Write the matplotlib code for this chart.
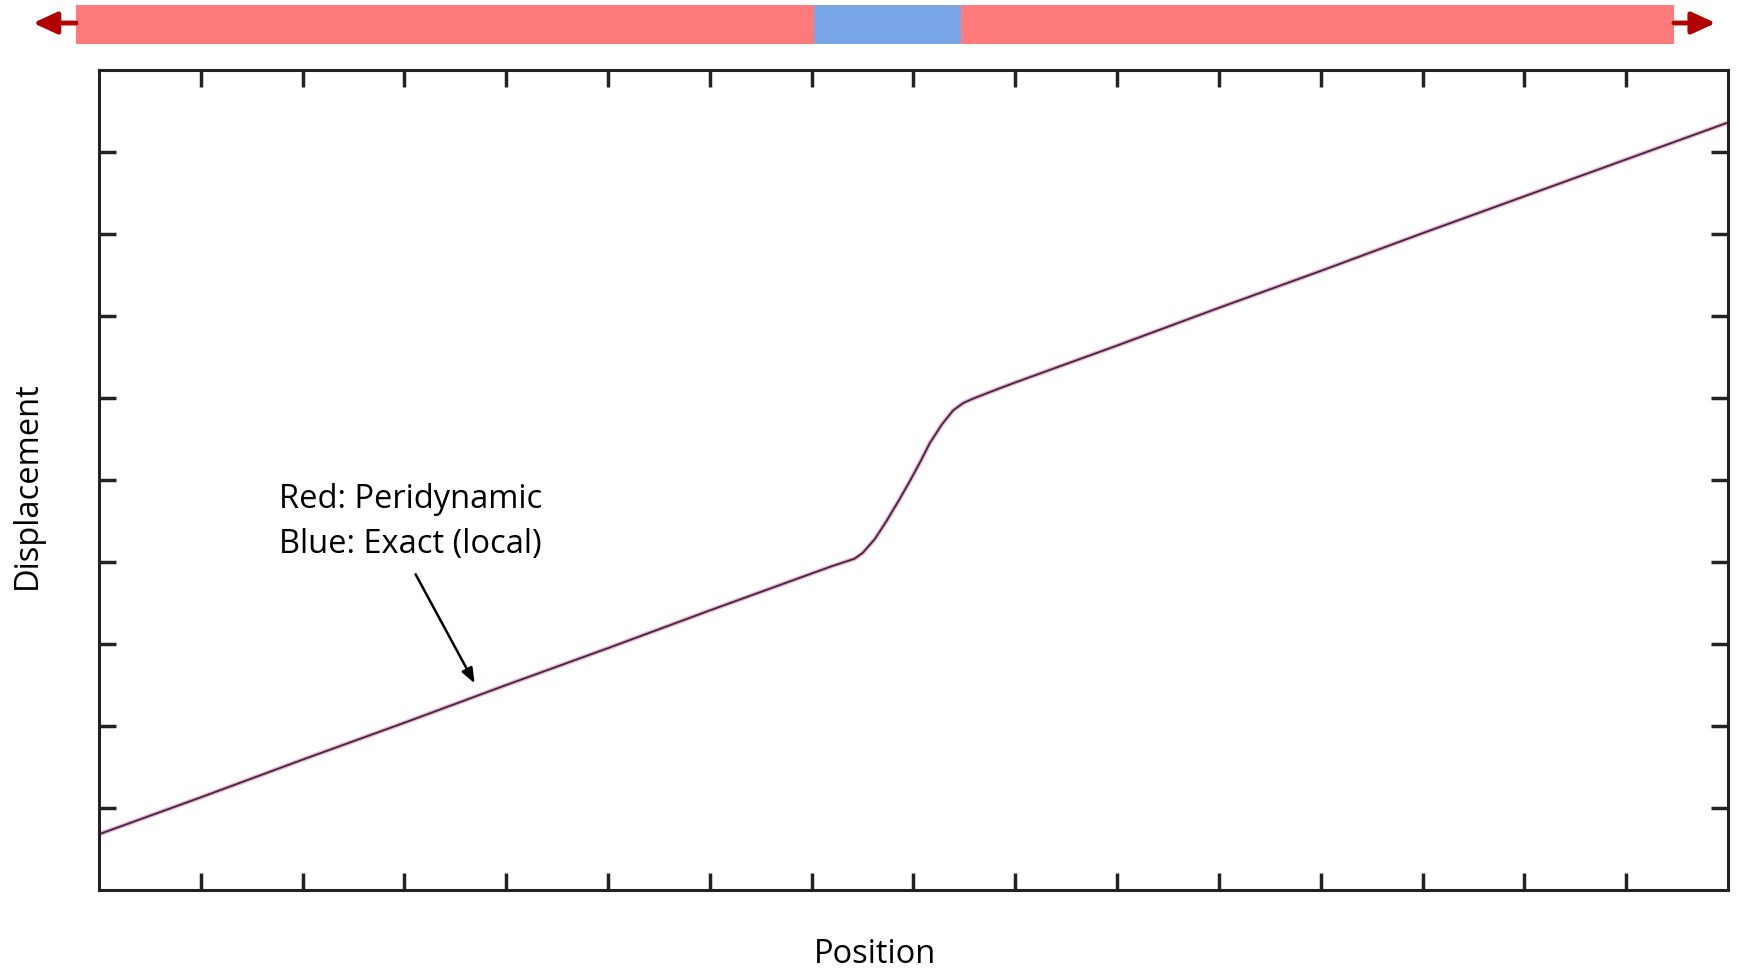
import matplotlib
matplotlib.use("Agg")
import matplotlib.pyplot as plt
from matplotlib.patches import FancyArrowPatch

# curve (position, displacement)
position = [0, 1, 2, 3, 4, 5, 6, 7, 7.2, 7.42, 7.5, 7.62, 7.74, 7.86, 7.97, 8.07,
            8.16, 8.28, 8.39, 8.49, 8.6, 8.85, 9, 10, 11, 12, 13, 14, 15, 16]
displacement = [0.68, 1.13, 1.59, 2.04, 2.50, 2.95, 3.41, 3.86, 3.95, 4.04, 4.11, 4.28,
                4.51, 4.76, 5.00, 5.23, 5.45, 5.68, 5.85, 5.94, 6.00, 6.12, 6.19,
                6.64, 7.10, 7.55, 8.01, 8.46, 8.91, 9.36]

x_ticks = list(range(1, 16))
y_ticks = list(range(1, 10))

# schematic bar on top: segment edges (fraction of bar length) and colours
bar_edges = [0.0, 0.462, 0.554, 1.0]
bar_colors = ["#FF7B7B", "#78A5E5", "#FF7B7B"]

plt.rcParams["font.family"] = ["Open Sans", "DejaVu Sans"]

fig = plt.figure(figsize=(17.39, 9.71), dpi=100)

# bar
bax = fig.add_axes([0.0437, 0.9547, 0.9189, 0.0402])
for i, c in enumerate(bar_colors):
    bax.axvspan(bar_edges[i], bar_edges[i + 1], color=c, lw=0)
bax.set_xlim(0, 1)
bax.set_ylim(0, 1)
bax.axis("off")

# arrows at both ends of the bar
arrow_kw = dict(arrowstyle="-|>,head_length=1.2,head_width=0.55", color="#B00000", lw=3.5,
                mutation_scale=12, transform=fig.transFigure, shrinkA=0, shrinkB=0)
fig.add_artist(FancyArrowPatch((0.0437, 0.9763), (0.0190, 0.9763), **arrow_kw))
fig.add_artist(FancyArrowPatch((0.9626, 0.9763), (0.9866, 0.9763), **arrow_kw))

# main plot
ax = fig.add_axes([0.0569, 0.0834, 0.9368, 0.8445])
ax.plot(position, displacement, color="#F2B0C0", lw=3.2, solid_capstyle="round")
ax.plot(position, displacement, color="#35284F", lw=1.3)
ax.set_xlim(0, 16)
ax.set_ylim(0, 10)
ax.set_xticks(x_ticks)
ax.set_yticks(y_ticks)
ax.tick_params(direction="in", length=12, width=2.5, color="#222222",
               top=True, right=True, labelbottom=False, labelleft=False)
for s in ax.spines.values():
    s.set_linewidth(2.2)
    s.set_color("#222222")

ax.text(1.77, 4.96, "Red: Peridynamic\nBlue: Exact (local)", fontsize=23.5,
        ha="left", va="top", linespacing=1.45)
ax.annotate("", xy=(3.69, 2.52), xytext=(3.11, 3.85),
            arrowprops=dict(arrowstyle="-|>,head_length=0.9,head_width=0.35",
                            color="black", lw=1.8, shrinkA=0, shrinkB=0))

fig.text(0.503, 0.008, "Position", fontsize=23.5, ha="center", va="baseline")
fig.text(0.006, 0.50, "Displacement", fontsize=23.5, rotation=90, ha="left", va="center")

fig.savefig("out.png", dpi=100)
